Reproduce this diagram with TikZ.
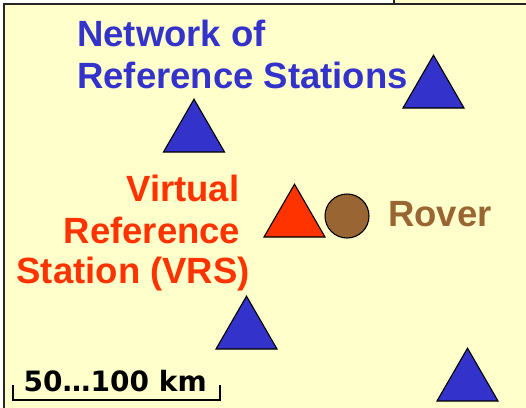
\documentclass[tikz,border=0pt]{standalone}
\usepackage{fontspec}
\setmainfont{Liberation Sans}
\newfontfamily\scalefont{DejaVu Sans}
\definecolor{bgyellow}{HTML}{FFFFCC}
\definecolor{netblue}{HTML}{3333CC}
\definecolor{vrsred}{HTML}{FF3300}
\definecolor{roverbrown}{HTML}{996633}
\newcommand\mytri[4]{% name, center x, base y, colour
  \draw[tri, fill=#4] (#2-30.5,#3) -- (#2,#3-52.8) -- (#2+30.5,#3) -- cycle;
  \coordinate (#1) at (#2,#3-17.6);}
\tikzset{
  tri/.style={draw=black, line width=1.1pt, line join=miter},
  big/.style={inner sep=0pt, font=\bfseries\fontsize{36.5}{42}\selectfont},
  frame/.style={draw=black!85, line width=1.3pt},
}
\begin{document}
\begin{tikzpicture}[x=1pt,y=-1pt]
\useasboundingbox (0,0) rectangle (526,407);
\fill[white] (0,0) rectangle (526,407);
% background panels
\fill[bgyellow] (394,-10) rectangle (530,4);
\draw[frame] (394,-10) -- (394,4);
\fill[bgyellow] (4,4) rectangle (530,412);
\draw[frame] (4,412) -- (4,4) -- (530,4);
% texts
\node[big, text=netblue, anchor=base west] (net1) at (77,46.5) {Network of};
\node[big, text=netblue, anchor=base west] (net2) at (77,88.5) {Reference Stations};
\node[big, text=vrsred, anchor=base east] (v1) at (239.5,201.5) {Virtual};
\node[big, text=vrsred, anchor=base east] (v2) at (240.5,243.5) {Reference};
\node[big, text=vrsred, anchor=base east] (v3) at (250,283.5) {Station (VRS)};
\node[big, text=roverbrown, anchor=base west] (rov) at (388,226.5) {Rover};
% stations
\mytri{s1}{433.5}{108}{netblue}
\mytri{s2}{194}{152}{netblue}
\mytri{vrs}{294.5}{237}{vrsred}
\mytri{s3}{246.5}{349}{netblue}
\mytri{s4}{467.5}{401}{netblue}
\draw[tri, fill=roverbrown] (347,216) circle (22);
% scale bar
\node[inner sep=0pt, anchor=base west, font=\scalefont\bfseries\fontsize{28}{32}\selectfont] (scl) at (23.5,391) {50…100 km};
\draw[black, line width=2pt] (13,385) -- (13,400) -- (219.5,400) -- (219.5,385);
\end{tikzpicture}
\end{document}
